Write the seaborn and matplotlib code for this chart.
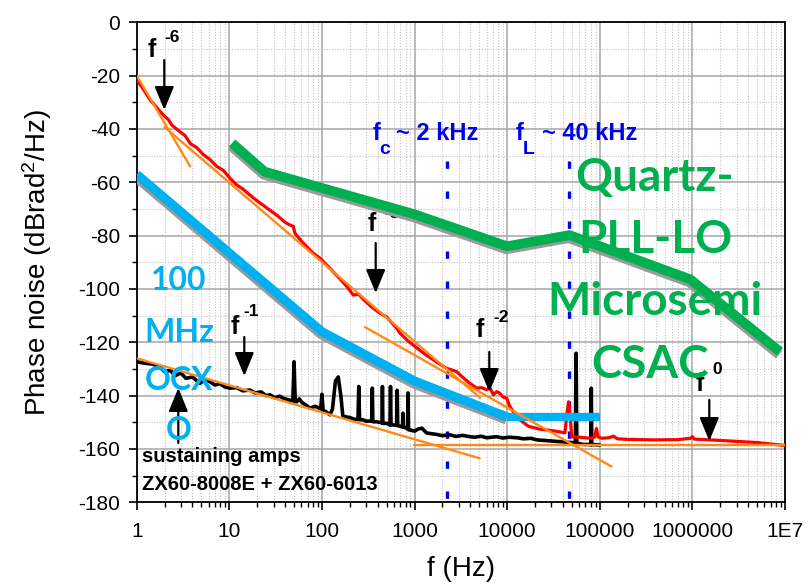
import numpy as np
import matplotlib
matplotlib.use("Agg")
import matplotlib.pyplot as plt
import matplotlib.patheffects as pe
from matplotlib.ticker import FixedLocator, LogLocator, NullFormatter
import seaborn as sns

# ---------------- data ----------------
x_ticks = [1, 10, 100, 1000, 10000, 100000, 1000000, 10000000]
x_tick_labels = ["1", "10", "100", "1000", "10000", "100000", "1000000", "1E7"]
y_ticks = [0, -20, -40, -60, -80, -100, -120, -140, -160, -180]

# measured red curve
red_f = [1, 1.2, 1.39, 1.6, 1.94, 2.2, 2.39, 2.8, 3.33, 3.8, 4.45, 5.2, 6.2, 7.3, 8.6,
         10.2, 12, 14, 16.7, 20, 23, 27.5, 33, 40, 45, 49, 51, 53.5, 60, 70, 80, 95.5,
         120, 150, 185, 200, 218, 250, 282, 350, 420, 500, 640, 697, 850, 1050, 1300,
         1600, 2200, 2850, 3400, 4000, 4700, 5300, 6000, 6500, 7100, 7700, 8300, 9000,
         9900, 10700, 13000, 17000, 22000, 28700, 36000, 42000, 44500, 46000, 47500,
         49800, 60000, 80000, 88000, 92000, 96000, 105000, 125000, 140000, 155000,
         200000, 400000, 700000, 950000, 1000000, 1050000, 2000000, 5000000, 10000000]
red_db = [-21.5, -25.5, -29, -31.5, -34.8, -36.5, -38.5, -40.5, -42.5, -45.5, -47, -49.5,
          -51.5, -54, -55.5, -58.5, -61, -62.5, -64.8, -67, -68.5, -70.5, -72.5, -75, -76,
          -76.5, -79, -80, -82, -84.5, -86.5, -88.5, -92, -95.5, -99, -100.5, -102.3, -102,
          -104, -107, -109, -110.5, -114.7, -116.6, -119.5, -122, -124.5, -126.6, -129.7,
          -131, -133.5, -135.5, -137.2, -137, -137.8, -137, -139.7, -138.5, -139.1, -140.5,
          -141, -144.1, -148.5, -151.5, -152.5, -153, -153.5, -154, -146, -142.3, -146,
          -155.4, -155.6, -156, -155.5, -152.3, -155.5, -156, -155.8, -155.2, -156.2,
          -156.4, -156.6, -156.5, -156, -155.4, -156.3, -156.8, -157.6, -158.7]

# measured black curve (sustaining amps)
black_f = [1.0, 1.2, 1.5, 1.8, 2.0, 2.3, 2.6, 3.0, 3.4, 4.0, 4.8, 5.5, 6.2, 7.0, 7.9, 9.0,
           10.2, 12, 14, 16.7, 19, 22, 25, 27.5, 31, 35, 38.4, 43, 48.5, 50, 51.5, 53.5,
           57, 60.5, 67, 74, 85, 97, 100, 103, 110, 122, 130, 140, 150, 160, 168, 178, 200,
           220, 245, 250, 255, 280, 300, 345, 350, 355, 390, 445, 450, 455, 500, 543, 550,
           557, 600, 642, 650, 658, 700, 742, 750, 758, 800, 840, 850, 860, 900, 1000, 1100,
           1200, 1350, 1470, 1700, 2000, 2420, 2800, 3300, 3940, 4500, 5200, 6000, 7700,
           9000, 10500, 12800, 15000, 18000, 21100, 25000, 30000, 35000, 40000, 45000,
           50000, 54500, 55500, 56500, 60000, 66000, 75000, 80000, 81000, 82000, 90000,
           100000]
black_db = [-127.3, -127.8, -128.2, -129.5, -131, -130.5, -132.5, -131.5, -133.5, -133,
            -135.4, -134, -134.8, -136, -135.5, -136.8, -137.2, -137, -138.2, -137.9, -139,
            -138.6, -140, -139.7, -140.8, -140.2, -141, -141.5, -142, -127.3, -142.3, -142.3,
            -141.2, -142.5, -143.5, -144.7, -144, -145, -139.5, -145.5, -146, -147.2, -145,
            -134.5, -133, -140, -147.5, -147.9, -148.2, -148.8, -149, -136.6, -149, -149.1,
            -149.6, -149.5, -137.2, -149.8, -149.8, -150.2, -136.6, -150.4, -150.4, -151,
            -136.6, -151, -151, -151.2, -138, -151.2, -151.5, -151.7, -146.6, -151.8, -152,
            -152.5, -139, -152.8, -152.9, -153.3, -152.5, -152.2, -154, -154.2, -154.5, -155,
            -154.7, -155.3, -154.9, -155.4, -155.6, -155.2, -155.8, -155.4, -155.9, -155.6,
            -155.8, -156.2, -156, -156.6, -156.8, -157, -157.2, -157.3, -157.5, -157.6,
            -157.8, -124.1, -157.8, -158, -158.3, -158.3, -158.4, -137.2, -158.4, -158.4,
            -158.5]

# 100 MHz OCXO model (blue) and flat floor
ocxo_f = [1, 100, 1000, 10000]
ocxo_db = [-57, -116, -134.5, -148]
ocxo_floor_f = [10000, 100000]
ocxo_floor_db = [-148, -148]

# Quartz-PLL-LO Microsemi CSAC (green)
csac_f = [10.7, 24, 1000, 10000, 47000, 950000, 8800000]
csac_db = [-45.3, -56, -72, -84, -79.8, -96.4, -123.5]

# power-law asymptotes (orange)
asym_m6_f, asym_m6_db = [1, 3.77], [-20, -54]
asym_m3_f, asym_m3_db = [2.0, 5100], [-39.3, -140.8]
asym_m2_f, asym_m2_db = [292, 134000], [-114.3, -166.6]
asym_m1_f, asym_m1_db = [1, 5050], [-126, -163.5]
asym_0_f, asym_0_db = [975, 10000000], [-158.5, -158.5]

# corner frequencies (blue dotted)
corner_f = [2230, 47000]
corner_db = [-52, -180]

# ---------------- styling ----------------
sns.set_theme(style="white")
plt.rcParams["font.family"] = ["Liberation Sans", "DejaVu Sans"]
plt.rcParams["mathtext.fontset"] = "custom"
plt.rcParams["mathtext.rm"] = "Liberation Sans"
plt.rcParams["mathtext.it"] = "Liberation Sans:italic"
plt.rcParams["mathtext.bf"] = "Liberation Sans:bold"

W, H = 811, 588
fig = plt.figure(figsize=(W / 100, H / 100), dpi=100)
L, R, T, B = 136.7, 785.0, 22.3, 502.3
ax = fig.add_axes([L / W, 1 - B / H, (R - L) / W, (B - T) / H])

ORANGE = "#ff8a1a"
GREEN = "#00b050"
CYAN = "#00b0f0"
BLUE = "#0000f0"

shadow = [pe.SimpleLineShadow(offset=(-0.6, -2.2), shadow_color="#9a9a9a", alpha=1.0), pe.Normal()]

for f0 in corner_f:
    sns.lineplot(x=[f0, f0], y=corner_db, ax=ax, color=BLUE, lw=2.4,
                 linestyle=(0, (2.2, 6.8)), estimator=None, sort=False, zorder=2.5)

sns.lineplot(x=black_f, y=black_db, ax=ax, color="black", lw=2.6,
             estimator=None, sort=False, zorder=3)
sns.lineplot(x=red_f, y=red_db, ax=ax, color="#ff0000", lw=2.3,
             estimator=None, sort=False, zorder=3.2)
sns.lineplot(x=ocxo_f, y=ocxo_db, ax=ax, color=CYAN, lw=6.5, estimator=None, sort=False,
             zorder=4, path_effects=shadow, solid_capstyle="butt", solid_joinstyle="miter")
sns.lineplot(x=ocxo_floor_f, y=ocxo_floor_db, ax=ax, color=CYAN, lw=6.0, estimator=None,
             sort=False, zorder=4.1, solid_capstyle="butt")
for fx, dy in [(asym_m6_f, asym_m6_db), (asym_m3_f, asym_m3_db), (asym_m2_f, asym_m2_db),
               (asym_m1_f, asym_m1_db), (asym_0_f, asym_0_db)]:
    sns.lineplot(x=fx, y=dy, ax=ax, color=ORANGE, lw=1.7, estimator=None, sort=False, zorder=5)
sns.lineplot(x=csac_f, y=csac_db, ax=ax, color=GREEN, lw=7.0, estimator=None, sort=False,
             zorder=6, path_effects=shadow, solid_capstyle="butt", solid_joinstyle="miter")

ax.set_xscale("log")
ax.set_xlim(1, 1e7)
ax.set_ylim(-180, 0)
ax.xaxis.set_major_locator(FixedLocator(x_ticks))
ax.set_xticklabels(x_tick_labels)
ax.xaxis.set_minor_locator(LogLocator(base=10, subs=np.arange(2, 10), numticks=50))
ax.xaxis.set_minor_formatter(NullFormatter())
ax.yaxis.set_major_locator(FixedLocator(y_ticks))
ax.yaxis.set_minor_locator(FixedLocator(np.arange(-170, 0, 20)))
ax.set_yticklabels([str(v) for v in y_ticks])

ax.grid(which="major", color="#a6a6a6", lw=1.1, ls="-")
ax.grid(which="minor", color="#c4c4c4", lw=0.8, ls=(0, (1, 1.5)))
ax.set_axisbelow(True)
for s in ax.spines.values():
    s.set_color("black")
    s.set_linewidth(1.3)
ax.tick_params(which="major", direction="out", length=6, width=1.2, color="black",
               labelsize=15, bottom=True, left=True, labelcolor="black")
ax.tick_params(which="minor", direction="out", length=3.5, width=1.0, color="black",
               bottom=True, left=True)
ax.tick_params(axis="y", which="major", pad=6)
ax.tick_params(axis="x", which="major", pad=8)

ax.set_xlabel("f (Hz)", fontsize=20, color="black")
ax.set_ylabel("Phase noise (dBrad$^2$/Hz)", fontsize=20, color="black")
ax.xaxis.set_label_coords(0.5, -0.112)
ax.yaxis.set_label_coords(-0.128, 0.5)


def P(x, y):
    return (x, H - y)


def txt(x, y, s, size, color="black", weight="bold", ha="center", va="center",
        family=None, z=7):
    kw = dict(fontsize=size, color=color, fontweight=weight, ha=ha, va=va, zorder=z)
    if family:
        kw["family"] = family
    ax.annotate(s, xy=P(x, y), xycoords="figure pixels", annotation_clip=False, **kw)


def arrow(x, y0, y1):
    ax.annotate("", xy=P(x, y1), xytext=P(x, y0), xycoords="figure pixels",
                textcoords="figure pixels", zorder=7,
                arrowprops=dict(arrowstyle="-|>,head_length=0.8,head_width=0.33",
                                mutation_scale=18, color="black", lw=1.6,
                                shrinkA=0, shrinkB=0))


# power-law labels
txt(151.7, 50, "f", 18)
txt(172, 37, "-6", 12.5)
txt(371.7, 224, "f", 18, z=3.5)
txt(392, 214, "-3", 12.5, z=3.5)
txt(235, 327, "f", 18)
txt(251, 311, "-1", 12.5)
txt(480, 330, "f", 18)
txt(501, 317, "-2", 12.5)
txt(700, 384, "f", 18)
txt(717, 370, "0", 12.5)
arrow(164.3, 60, 110)
arrow(375.7, 243, 293)
arrow(244.3, 337, 376)
arrow(489.3, 352, 392)
arrow(709.3, 400, 441)
arrow(178.3, 443, 388)

# corner frequency labels
txt(376.7, 133, "f", 17, color=BLUE)
txt(385, 150, "c", 14, color=BLUE)
txt(396, 133, "~ 2 kHz", 17, color=BLUE, ha="left")
txt(520, 133, "f", 17, color=BLUE)
txt(529, 150, "L", 14, color=BLUE)
txt(542, 133, "~ 40 kHz", 17, color=BLUE, ha="left")

# device labels
for s, y in zip(["100", "MHz", "OCX", "O"], [280, 332, 380, 430]):
    txt(179, y, s, 23, color=CYAN, family=["Lato", "DejaVu Sans"], z=7.5)
for s, x, y in zip(["Quartz-", "PLL-LO", "Microsemi", "CSAC"], [655, 655, 655, 650],
                   [178, 240, 302, 365]):
    txt(x, y, s, 33, color=GREEN, family=["Lato", "DejaVu Sans"], z=8)

txt(142, 457, "sustaining amps", 14.5, ha="left")
txt(142, 485, "ZX60-8008E + ZX60-6013", 14.5, ha="left")

fig.savefig("out.png", dpi=100)
